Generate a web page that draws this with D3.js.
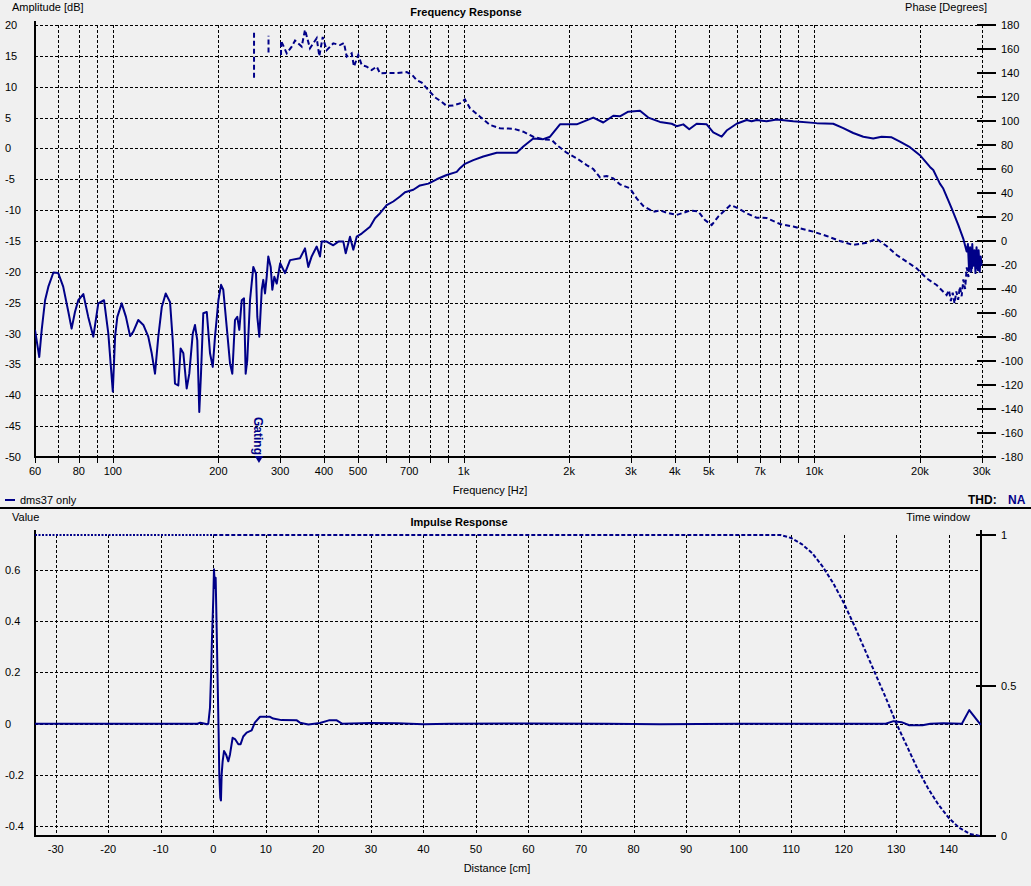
<!DOCTYPE html>
<html><head><meta charset="utf-8">
<script src="https://cdn.jsdelivr.net/npm/d3@7"></script>
<style>
body{margin:0;background:#f0f0f0;}
svg{display:block;font-family:"Liberation Sans",Arial,sans-serif;}
</style>
</head><body>
<svg id="c" width="1031" height="886"></svg>
<script>
// ---------- DATA ----------
const ampFreq = [
60, 61.7, 62.7, 64.1, 65.5, 67.7, 69.9, 72.2, 74.7, 76.3,
78, 79.7, 82.4, 85.1, 88, 90.9, 94.4, 97.1, 100, 101.5,
103, 106, 109, 112, 114.4, 118.2, 122.2, 126.2, 129.1, 131.9,
134.8, 137.9, 141.5, 145.6, 148.2, 150.4, 153.7, 156.1, 158.9, 162.4,
165.2, 169, 171.5, 174.1, 176.4, 178.4, 181.1, 185.3, 189.3, 192.7,
195.6, 200, 203.5, 206.5, 211.2, 215.8, 219.1, 223, 226.4, 229.4,
233.1, 236.6, 239.2, 241.7, 246.1, 251.5, 256, 258.2, 261.6, 265.8,
268.5, 271.6, 274.6, 277.5, 281.9, 284.9, 288.7, 293.3, 300, 309.7,
320.1, 341.7, 353.1, 360.8, 368.9, 381.3, 389.7, 394, 407.2, 425.2,
439.4, 454.1, 461.3, 474.5, 484.9, 495.8, 512.3, 541.2, 559.2, 577.9,
603.6, 630.3, 658.7, 680.8, 719, 751, 793.6, 838, 895, 956,
976.6, 1009, 1066, 1138, 1243, 1417, 1480, 1580, 1687, 1764,
1883, 2101, 2343, 2502, 2672, 2791, 2948, 3184, 3362, 3630,
3920, 4050, 4230, 4399, 4618, 4932, 5150, 5442, 5623, 6004,
6412, 6626, 6847, 7311, 7806, 8709, 10152, 11320, 12090, 12910,
13790, 14720, 15550, 16610, 17540, 18730, 20000, 21360, 21830, 22800,
23310, 24090, 24630, 25720, 26580, 27180, 27400, 27600, 27800, 28000,
28200, 28400, 28600, 28800, 29000, 29200, 29400, 29600, 29800, 30000
];
const ampDb = [
-29.4, -33.8, -29.4, -24.6, -22.4, -20.1, -20.2, -22.4, -26.5, -29.2,
-26.5, -24.6, -23.6, -27.3, -30.5, -25.1, -24.6, -30.0, -39.4, -30.5,
-27.3, -25.1, -27.3, -30.4, -29.7, -27.8, -28.6, -30.5, -33.2, -36.5,
-30.5, -25.7, -23.5, -24.9, -31.1, -38.1, -38.4, -32.4, -33.2, -38.9,
-36.5, -30.0, -28.6, -31.1, -42.7, -36.5, -26.7, -26.5, -33.2, -35.4,
-30.5, -24.6, -22.1, -22.9, -28.9, -34.8, -36.5, -27.8, -27.3, -29.4,
-24.6, -24.3, -36.5, -34.3, -24.6, -19.2, -20.3, -27.3, -30.5, -22.9,
-21.3, -23.5, -20.8, -17.5, -19.2, -22.9, -20.8, -21.9, -18.6, -20.2,
-18.1, -17.8, -16.2, -19.2, -17.5, -15.9, -17.5, -15.1, -15.1, -15.7,
-15.1, -15.1, -17.0, -14.3, -16.4, -14.3, -13.8, -12.7, -11.3, -10.5,
-9.2, -8.6, -7.8, -7.1, -6.7, -6.0, -5.7, -5.0, -4.3, -3.8,
-3.2, -2.5, -1.9, -1.3, -0.7, -0.7, 0.3, 1.6, 1.5, 1.9,
3.9, 3.9, 5.0, 4.2, 5.3, 5.2, 5.95, 6.1, 5.0, 4.3,
4.0, 3.6, 3.9, 3.1, 4.0, 3.9, 2.6, 1.9, 2.9, 4.0,
4.6, 4.4, 4.6, 4.4, 4.7, 4.4, 4.1, 4.0, 3.3, 2.5,
1.9, 1.6, 1.9, 1.8, 1.1, 0.2, -1.1, -3.0, -3.5, -5.7,
-6.5, -8.4, -9.7, -12.4, -14.6, -16.7, -15.5, -19.5, -16.0, -20.0,
-15.5, -19.0, -16.5, -20.2, -16.0, -19.5, -16.5, -20.0, -17.5, -19.0
];
const phaseFreq = [
252.7, 252.7, null, 277.9, 277.9, null, 301.7, 301.7, 313.2, 323.6,
330.7, 345.5, 353.1, 364.8, 381.3, 387.9, 396.6, 407.2, 425.2, 444.3,
456.1, 464.3, 479.7, 487, 501, 512.3, 529.4, 547, 565.3, 577.7,
610.1, 644.6, 688.3, 714.2, 735.1, 759.7, 793.3, 829, 866.3, 895.1,
934.6, 976.6, 1009, 1043, 1114, 1189, 1270, 1386, 1480, 1580,
1687, 1783, 1843, 1967, 2101, 2243, 2343, 2448, 2558, 2672,
2791, 2981, 3115, 3253, 3474, 3630, 3793, 4050, 4420, 4667,
4877, 5096, 5321, 5563, 5773, 6069, 6412, 6847, 7311, 7980,
8709, 9100, 9928, 10840, 11830, 12910, 14100, 15050, 16070, 17170,
18330, 19570, 20900, 22310, 23830, 24200, 24500, 24800, 25100, 25400,
25700, 26000, 26300, 26600, 26900, 27200, 27500, 27800, 28100, 28400,
28700, 29000, 29300, 29600, 30000
];
const phaseDeg = [
136, 176, null, 157, 171, null, 155, 167, 156.4, 162,
167, 162, 176, 160.6, 169, 154, 170, 159, 164.7, 163.3,
165, 153.6, 156.4, 145.3, 155, 146.7, 145.3, 142.5, 145.3, 139.7,
140, 140, 140.8, 138.3, 134, 132, 125.8, 119.7, 116, 112.5,
113, 114.7, 118, 110.6, 103.6, 96.7, 93.9, 93.6, 91.1, 86.9,
84.7, 84.2, 80, 73.6, 68.9, 63.3, 60, 53.1, 54.2, 52.2,
47.2, 43.9, 35.6, 29.2, 24.4, 25.5, 23.6, 21.7, 25.3, 24.7,
17.5, 13.3, 20.3, 25.8, 30, 27.2, 23.1, 19.4, 19.2, 14.2,
12, 10.6, 7.8, 4.2, 0, -3.3, -1.4, 1.7, -4.2, -11.7,
-17.2, -22.8, -31.1, -36.7, -45, -41, -50, -43, -52, -42,
-49, -38, -46, -32, -40, -22, -30, -12, -24, -10,
-22, -12, -25, -14, -20
];
const freqGrid = [60,70,80,90,100,200,300,400,500,600,700,800,900,1000,2000,3000,4000,5000,6000,7000,8000,9000,10000,20000,30000];
const freqLabels = [60,80,100,200,300,400,500,700,1000,2000,3000,4000,5000,7000,10000,20000,30000];
const dbTicks = [20,15,10,5,0,-5,-10,-15,-20,-25,-30,-35,-40,-45,-50];
const phaseTicks = [180,160,140,120,100,80,60,40,20,0,-20,-40,-60,-80,-100,-120,-140,-160,-180];
const gatingFreq = 261;

const irDist = [
-34, -3, -2.5, -2, -1.2, -0.95, -0.63, -0.44, -0.25, 0,
0.13, 0.32, 0.45, 0.64, 0.83, 1.02, 1.14, 1.33, 1.46, 1.59,
1.78, 2.04, 2.42, 2.86, 3.18, 3.68, 4.13, 4.77, 5.2, 5.7,
6.35, 7.3, 7.9, 8.9, 10.8, 11.4, 13, 15.9, 16.5, 18.1,
20.3, 22, 23.5, 24.5, 30, 35, 40, 45, 60, 75,
85, 100, 120, 128, 129.5, 131, 132.5, 135, 136.5, 139,
142.5, 143.9, 146.1
];
const irValue = [
0, 0, 0.004, 0.002, -0.002, 0, 0.062, 0.18, 0.336, 0.49,
0.603, 0.53, 0.57, 0.375, 0.166, -0.042, -0.198, -0.289, -0.30, -0.198,
-0.147, -0.107, -0.12, -0.147, -0.12, -0.055, -0.06, -0.08, -0.08, -0.05,
-0.035, -0.026, 0.004, 0.027, 0.027, 0.02, 0.014, 0.013, 0.004, -0.003,
0.003, 0.013, 0.013, 0.0, 0.003, 0.002, -0.002, 0.0, 0.001, 0.0,
-0.002, 0.0, 0.0, 0.0, 0.01, 0.006, -0.006, -0.006, 0.0, 0.002,
0.0, 0.053, -0.005
];
const winPreDist = [-33.94, 0];
const winPreValue = [1, 1];
const winDist = [0, 108, 110, 112, 114, 116, 118, 120, 122, 124, 126, 128, 130, 132, 134, 136, 138, 140, 142, 144, 146];
const winValue = [1, 1, 0.99, 0.97, 0.94, 0.895, 0.84, 0.775, 0.70, 0.62, 0.54, 0.46, 0.375, 0.30, 0.225, 0.16, 0.105, 0.06, 0.027, 0.007, 0];
const distTicks = [-30,-20,-10,0,10,20,30,40,50,60,70,80,90,100,110,120,130,140];
const valueTicks = [0.6,0.4,0.2,0,-0.2,-0.4];
const windowTicks = [1,0.5,0];

// ---------- DRAW ----------
const NAVY = "#000088";
const svg = d3.select("#c");
svg.append("rect").attr("width",1031).attr("height",886).attr("fill","#f0f0f0");

const fmtFreq = f => f >= 1000 ? (f/1000) + "k" : String(f);
function txt(x, y, s, opt = {}) {
  return svg.append("text").attr("x", x).attr("y", y).text(s)
    .attr("font-size", opt.size || 11)
    .attr("font-weight", opt.bold ? "bold" : "normal")
    .attr("fill", opt.fill || "#000")
    .attr("text-anchor", opt.anchor || "start");
}

// ===== Top chart =====
const X = d3.scaleLog().domain([60, 30000]).range([35, 981.7]);
const Ydb = d3.scaleLinear().domain([-50, 20]).range([457, 25]);
const Yph = d3.scaleLinear().domain([-180, 180]).range([457, 25]);

const gTop = svg.append("g").attr("shape-rendering","crispEdges");
gTop.selectAll("line.hg").data(dbTicks.filter(d => d > -50)).enter().append("line")
  .attr("x1", 35).attr("x2", X(30000)).attr("y1", d => Math.round(Ydb(d))+0.5).attr("y2", d => Math.round(Ydb(d))+0.5)
  .attr("stroke","#000").attr("stroke-dasharray","3,2");
gTop.selectAll("line.vg").data(freqGrid.slice(1)).enter().append("line")
  .attr("x1", d => Math.round(X(d))+0.5).attr("x2", d => Math.round(X(d))+0.5).attr("y1", 25).attr("y2", 457)
  .attr("stroke","#000").attr("stroke-dasharray","3,2");
gTop.selectAll("line.xt").data(freqGrid).enter().append("line")
  .attr("x1", d => Math.round(X(d))+0.5).attr("x2", d => Math.round(X(d))+0.5).attr("y1", 457).attr("y2", 463)
  .attr("stroke","#000");
gTop.append("line").attr("x1",35).attr("x2",35).attr("y1",21).attr("y2",458).attr("stroke","#000").attr("stroke-width",2);
gTop.append("line").attr("x1",34).attr("x2",995).attr("y1",457).attr("y2",457).attr("stroke","#000").attr("stroke-width",2);
gTop.selectAll("line.pt").data(phaseTicks).enter().append("line")
  .attr("x1", 977).attr("x2", 996).attr("y1", d => Math.round(Yph(d))).attr("y2", d => Math.round(Yph(d)))
  .attr("stroke","#000").attr("stroke-width",2);

dbTicks.forEach(d => txt(5, Ydb(d) + 4, String(d)));
phaseTicks.forEach(d => txt(1001, Yph(d) + 4, String(d)));
freqLabels.forEach(f => txt(X(f), 475, fmtFreq(f), {anchor:"middle"}));
txt(12, 11, "Amplitude [dB]");
txt(466, 16, "Frequency Response", {bold:true, anchor:"middle"});
txt(987, 11, "Phase [Degrees]", {anchor:"end"});
txt(490, 494, "Frequency [Hz]", {anchor:"middle"});

const defs = svg.append("defs");
defs.append("clipPath").attr("id","clipTop").append("rect").attr("x",35).attr("y",20).attr("width",X(30000)-35+2).attr("height",440);
defs.append("clipPath").attr("id","clipBot").append("rect").attr("x",35).attr("y",530).attr("width",947).attr("height",310);

const ampData = d3.zip(ampFreq, ampDb);
const phData = d3.zip(phaseFreq, phaseDeg);
const ampLine = d3.line().x(d => X(d[0])).y(d => Ydb(d[1]));
const phLine = d3.line().defined(d => d[0] != null && d[1] != null).x(d => X(d[0])).y(d => Yph(d[1]));
const curves = svg.append("g").attr("clip-path","url(#clipTop)");
curves.append("path").attr("d", ampLine(ampData)).attr("fill","none").attr("stroke",NAVY)
  .attr("stroke-width",2).attr("stroke-linejoin","round");
curves.append("path").attr("d", phLine(phData)).attr("fill","none").attr("stroke",NAVY)
  .attr("stroke-width",2).attr("stroke-dasharray","5,3");

// gating marker
const gx = X(gatingFreq);
svg.append("path").attr("d", `M${gx-4.2},456 L${gx+4.2},456 L${gx},463 Z`).attr("fill",NAVY);
svg.append("text").attr("transform", `translate(${gx-4.5},455) rotate(90)`).attr("text-anchor","end")
  .attr("font-size",12).attr("font-weight","bold").attr("fill",NAVY).text("Gating");

// legend / THD
svg.append("line").attr("x1",5).attr("x2",15).attr("y1",500).attr("y2",500).attr("stroke",NAVY).attr("stroke-width",2);
txt(20, 504, "dms37 only");
txt(968, 504, "THD:", {bold:true, size:12});
txt(1008, 504, "NA", {bold:true, size:12, fill:NAVY});

svg.append("line").attr("x1",0).attr("x2",1031).attr("y1",508).attr("y2",508).attr("stroke","#000").attr("stroke-width",2);

// ===== Bottom chart =====
const XD = d3.scaleLinear().domain([-33.94, 146.14]).range([35, 981]);
const YV = d3.scaleLinear().domain([-0.4387, 0.7371]).range([836, 535]);
const YW = d3.scaleLinear().domain([0, 1]).range([836, 535]);

const gBot = svg.append("g").attr("shape-rendering","crispEdges");
gBot.selectAll("line.hg").data(valueTicks).enter().append("line")
  .attr("x1", 35).attr("x2", 981).attr("y1", d => Math.round(YV(d))+0.5).attr("y2", d => Math.round(YV(d))+0.5)
  .attr("stroke","#000").attr("stroke-dasharray","3,2");
gBot.selectAll("line.vg").data(distTicks).enter().append("line")
  .attr("x1", d => Math.round(XD(d))+0.5).attr("x2", d => Math.round(XD(d))+0.5).attr("y1", 535).attr("y2", 836)
  .attr("stroke","#000").attr("stroke-dasharray","3,2");
gBot.append("line").attr("x1",35).attr("x2",35).attr("y1",530).attr("y2",837).attr("stroke","#000").attr("stroke-width",2);
gBot.append("line").attr("x1",981).attr("x2",981).attr("y1",530).attr("y2",837).attr("stroke","#000").attr("stroke-width",2);
gBot.append("line").attr("x1",34).attr("x2",995).attr("y1",836).attr("y2",836).attr("stroke","#000").attr("stroke-width",2);
gBot.selectAll("line.wt").data(windowTicks).enter().append("line")
  .attr("x1", 976).attr("x2", 996).attr("y1", d => Math.round(YW(d))).attr("y2", d => Math.round(YW(d)))
  .attr("stroke","#000").attr("stroke-width",2);

valueTicks.forEach(v => txt(5, YV(v) + 4, String(v)));
windowTicks.forEach(v => txt(1001, YW(v) + 4, String(v)));
distTicks.forEach(d => txt(XD(d), 853, String(d), {anchor:"middle"}));
txt(12, 521, "Value");
txt(459, 526, "Impulse Response", {bold:true, anchor:"middle"});
txt(970, 521, "Time window", {anchor:"end"});
txt(497, 872, "Distance [cm]", {anchor:"middle"});

const bc = svg.append("g").attr("clip-path","url(#clipBot)");
const winLine = d3.line().x(d => XD(d[0])).y(d => YW(d[1]));
bc.append("path").attr("d", winLine(d3.zip(winPreDist, winPreValue))).attr("fill","none")
  .attr("stroke",NAVY).attr("stroke-width",2).attr("stroke-dasharray","2,1.5");
bc.append("path").attr("d", winLine(d3.zip(winDist, winValue))).attr("fill","none")
  .attr("stroke",NAVY).attr("stroke-width",2).attr("stroke-dasharray","4,2");
const irLine = d3.line().x(d => XD(d[0])).y(d => YV(d[1]));
bc.append("path").attr("d", irLine(d3.zip(irDist, irValue))).attr("fill","none")
  .attr("stroke",NAVY).attr("stroke-width",2).attr("stroke-linejoin","round");
</script>
</body></html>
